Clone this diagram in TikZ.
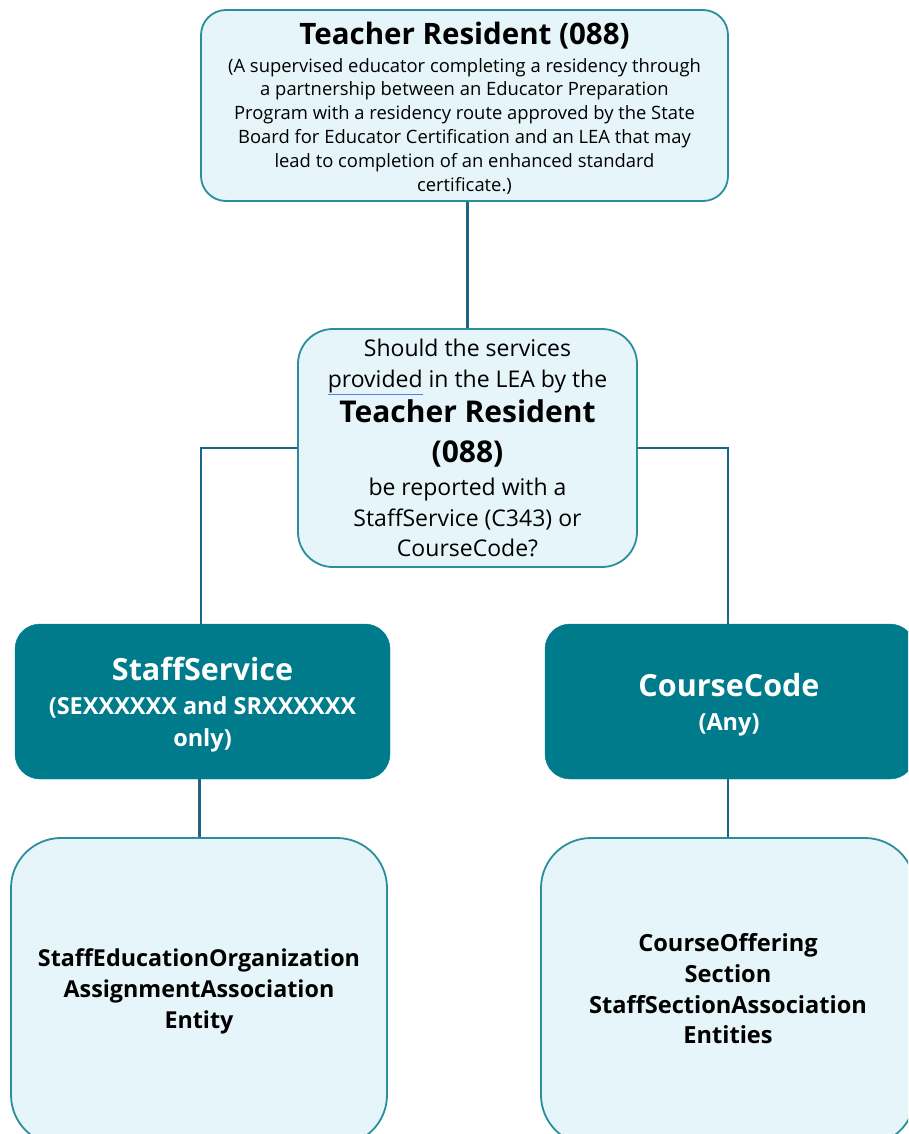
\documentclass[tikz,border=0pt]{standalone}
\usepackage{fontspec}
\setmainfont{Open Sans}
\definecolor{lightfill}{HTML}{E5F5F9}
\definecolor{boxline}{HTML}{2A8E9D}
\definecolor{darkfill}{HTML}{007B8B}
\definecolor{conn}{HTML}{1D6487}
\definecolor{uline}{HTML}{5B7FE0}
\newcommand\spellul[1]{{\color{uline}\underline{\textcolor{black}{#1}}}}
\begin{document}
\begin{tikzpicture}[x=1pt,y=-1pt,
  lightbox/.style={draw=boxline, line width=1.8pt, fill=lightfill, align=center, inner sep=0pt, text=black},
  darkbox/.style={fill=darkfill, draw=darkfill, inner sep=0pt},
  darktext/.style={align=center, inner sep=0pt, text=white, font=\bfseries},
  plaintext/.style={align=center, inner sep=0pt, text=black},
  connector/.style={draw=conn, line width=2.6pt}]
\useasboundingbox (0,0) rectangle (908,1134);
\clip (0,0) rectangle (908,1134);

\node[lightbox, rounded corners=25pt, minimum width=527pt, minimum height=191pt] (top) at (464.5,105.5) {};
\node[plaintext, font=\fontsize{18.4}{23.8}\selectfont] (toptext) at ([yshift=-2.5pt]top.center)
 {{\fontsize{29.5}{32}\selectfont\bfseries Teacher Resident (088)}\\[4pt]
  (A supervised educator completing a residency through\\
  a partnership between an Educator Preparation\\
  Program with a residency route approved by the State\\
  Board for Educator Certification and an LEA that may\\
  lead to completion of an enhanced standard\\
  certificate.)};

\node[lightbox, rounded corners=35pt, minimum width=339pt, minimum height=238pt,
      font=\fontsize{23}{30.5}\selectfont] (mid) at (467.5,448)
 {Should the services\\
  \spellul{provided} in the LEA by the\\[5pt]
  {\fontsize{30}{34}\selectfont\bfseries Teacher Resident}\\[9pt]
  {\fontsize{30}{34}\selectfont\bfseries (088)}\\[3pt]
  be reported with a\\
  StaffService (C343) or\\
  CourseCode?};

\node[darkbox, rounded corners=25pt, minimum width=375pt, minimum height=155pt] (ss) at (202.5,701.5) {};
\node[darktext, font=\fontsize{23.5}{32}\selectfont\bfseries] (sstext) at ([yshift=-3pt]ss.center)
 {{\fontsize{30.5}{32}\selectfont StaffService}\\[2pt]
  (SEXXXXXX and SRXXXXXX\\
  only)};

\node[darkbox, rounded corners=25pt, minimum width=370pt, minimum height=155pt] (cc) at (730,701.5) {};
\node[darktext, font=\fontsize{23.5}{32}\selectfont\bfseries] (cctext) at ([yshift=-3pt,xshift=-1pt]cc.center)
 {{\fontsize{30.5}{32}\selectfont CourseCode}\\[2pt]
  (Any)};

\node[lightbox, rounded corners=50pt, minimum width=376pt, minimum height=307pt,
      font=\fontsize{23.3}{31}\selectfont\bfseries] (bl) at (199,991.5)
 {StaffEducationOrganization\\
  AssignmentAssociation\\
  Entity};

\node[lightbox, rounded corners=50pt, minimum width=374pt, minimum height=307pt] (br) at (728,991.5) {};
\node[plaintext, font=\fontsize{23.6}{30.7}\selectfont\bfseries] (brtext) at ([yshift=2.5pt]br.center)
 {CourseOffering\\
  Section\\
  StaffSectionAssociation\\
  Entities};

\draw[connector] (mid.north) -- (mid.north |- top.south);
\draw[connector] (mid.west) -| ([xshift=-1.5pt]ss.north);
\draw[connector] (mid.east) -| ([xshift=-2pt]cc.north);
\draw[connector] ([xshift=-3pt]ss.south) -- ([xshift=-3pt]ss.south |- bl.north);
\draw[connector] (br.north |- cc.south) -- (br.north);
\end{tikzpicture}
\end{document}
